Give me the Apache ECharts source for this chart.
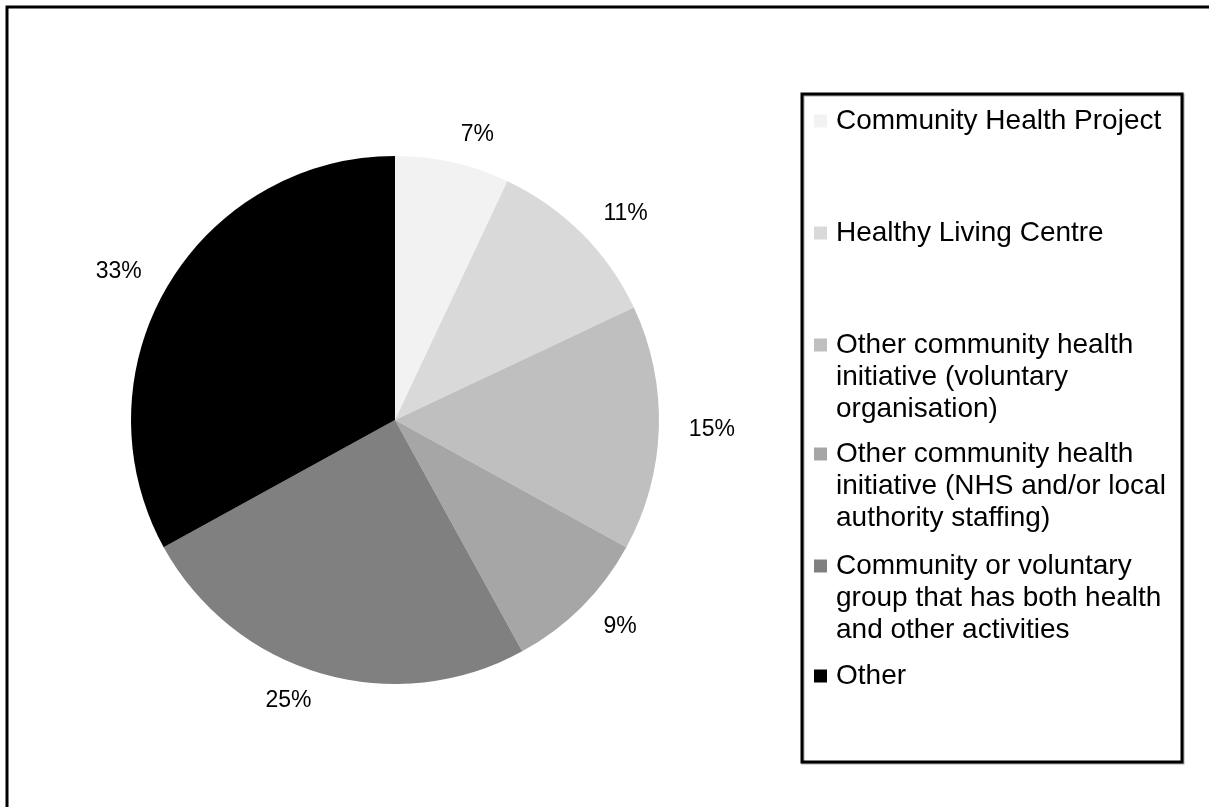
<!DOCTYPE html>
<html>
<head>
<meta charset="utf-8">
<script src="https://cdn.jsdelivr.net/npm/echarts@6/dist/echarts.min.js"></script>
<style>
  html, body { margin: 0; padding: 0; background: #fff; }
  #chart { width: 1209px; height: 807px; }
</style>
</head>
<body>
<div id="chart"></div>
<script>
// ---- data ----
var categories = [
  'Community Health Project',
  'Healthy Living Centre',
  'Other community health initiative (voluntary organisation)',
  'Other community health initiative (NHS and/or local authority staffing)',
  'Community or voluntary group that has both health and other activities',
  'Other'
];
var legendText = [
  'Community Health Project',
  'Healthy Living Centre',
  'Other community health\ninitiative (voluntary\norganisation)',
  'Other community health\ninitiative (NHS and/or local\nauthority staffing)',
  'Community or voluntary\ngroup that has both health\nand other activities',
  'Other'
];
var values = [7, 11, 15, 9, 25, 33];
var colors = ['#f2f2f2', '#d9d9d9', '#bfbfbf', '#a6a6a6', '#808080', '#000000'];

// ---- layout ----
var FONT = '"Liberation Sans", Arial, sans-serif';
var LH = 32;
var firstLineCenters = [121, 233, 345, 454, 566, 676];

var legends = categories.map(function (name, i) {
  var lines = legendText[i].split('\n').length;
  // leading blank lines keep the icon level with the first text line
  var txt = new Array(lines).join('\n') + legendText[i];
  return {
    data: [name],
    orient: 'vertical',
    left: 814,
    top: firstLineCenters[i] - LH / 2 - (lines - 1) * LH,
    padding: 0,
    itemWidth: 13,
    itemHeight: 13,
    icon: 'rect',
    selectedMode: false,
    formatter: function () { return txt; },
    textStyle: {
      fontFamily: FONT,
      fontSize: 28,
      lineHeight: LH,
      color: '#000',
      padding: [0, 0, 0, 4]
    }
  };
});

var chart = echarts.init(document.getElementById('chart'), null, { renderer: 'canvas' });
chart.setOption({
  animation: false,
  backgroundColor: '#fff',
  color: colors,
  legend: legends,
  graphic: [
    {
      type: 'rect', z: -1,
      shape: { x: 7, y: 7, width: 1300, height: 900 },
      style: { fill: null, stroke: '#000', lineWidth: 3 }
    },
    {
      type: 'rect', z: -1,
      shape: { x: 802, y: 94, width: 380, height: 668 },
      style: { fill: null, stroke: '#000', lineWidth: 3, shadowColor: 'rgba(0,0,0,0.35)', shadowOffsetX: 1, shadowOffsetY: 1, shadowBlur: 0 }
    }
  ],
  series: [{
    type: 'pie',
    center: [395, 420],
    radius: 264,
    startAngle: 90,
    clockwise: true,
    avoidLabelOverlap: false,
    silent: true,
    data: categories.map(function (n, i) { return { name: n, value: values[i] }; }),
    itemStyle: { borderWidth: 0 },
    label: {
      show: true,
      position: 'outside',
      formatter: '{c}%',
      fontFamily: FONT,
      fontSize: 23,
      color: '#000',
      distanceToLabelLine: 2
    },
    labelLine: { show: false, length: 28, length2: 0 }
  }]
});
</script>
</body>
</html>
